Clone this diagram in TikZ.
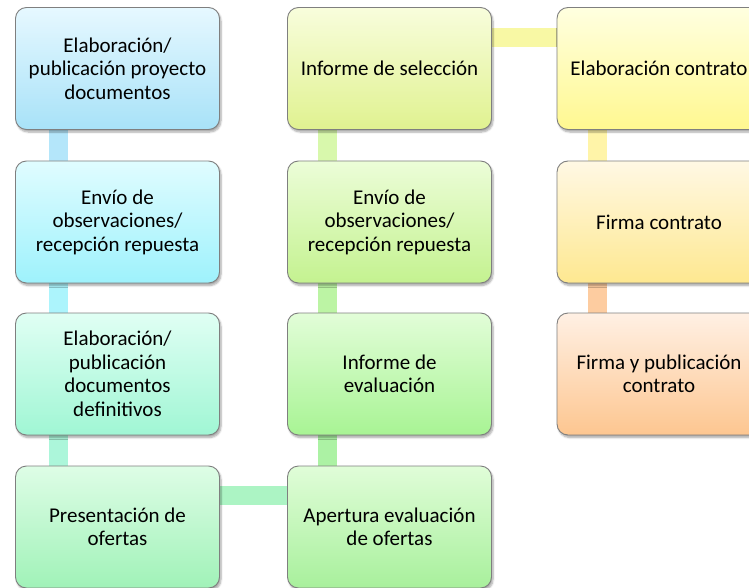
\documentclass[tikz,border=0pt]{standalone}
\usepackage{fontspec}
\setmainfont{Carlito}
\usetikzlibrary{shadows.blur,backgrounds}
\definecolor{t1}{HTML}{E6F8FF}\definecolor{b1}{HTML}{A8E2F8}
\definecolor{t2}{HTML}{E0FCFF}\definecolor{b2}{HTML}{9EF2FC}
\definecolor{t3}{HTML}{E0FFF4}\definecolor{b3}{HTML}{A0F6D4}
\definecolor{t4}{HTML}{DEFDE6}\definecolor{b4}{HTML}{A0F2B8}
\definecolor{t5}{HTML}{E0FDD8}\definecolor{b5}{HTML}{A8F09C}
\definecolor{t6}{HTML}{E2FDD8}\definecolor{b6}{HTML}{A8F494}
\definecolor{t7}{HTML}{ECFDD8}\definecolor{b7}{HTML}{C4F290}
\definecolor{t8}{HTML}{F8FDDC}\definecolor{b8}{HTML}{E0F290}
\definecolor{t9}{HTML}{FFFFE0}\definecolor{b9}{HTML}{FFF890}
\definecolor{t10}{HTML}{FFF8E4}\definecolor{b10}{HTML}{FEE890}
\definecolor{t11}{HTML}{FFF0E4}\definecolor{b11}{HTML}{FDC690}
\definecolor{k1}{HTML}{B4E6FA}\definecolor{k2}{HTML}{ACF4FC}
\definecolor{k3}{HTML}{ACF6DA}\definecolor{k4}{HTML}{ACF4C4}
\definecolor{k5}{HTML}{ACF2A4}\definecolor{k6}{HTML}{BCF4A4}
\definecolor{k7}{HTML}{D8F8AC}\definecolor{k8}{HTML}{F8F8A4}
\definecolor{k9}{HTML}{FFF4A8}\definecolor{k10}{HTML}{FDCCA0}
\definecolor{edge}{HTML}{7F7F7F}
\tikzset{
  box/.style={draw=edge, line width=0.9pt, rounded corners=11pt,
    minimum width=204pt, minimum height=122pt, align=center,
    font=\fontsize{21}{23.5}\selectfont, text=black,
    blur shadow={shadow xshift=1.5pt, shadow yshift=-2.5pt, shadow blur steps=6, shadow opacity=35}},
  grad/.style={top color=t#1, bottom color=b#1},
  bar/.style={line width=19pt}
}
\begin{document}
\begin{tikzpicture}[x=1pt,y=1pt]
\useasboundingbox (0,0) rectangle (749,-588);
\node[box,grad=1] (a1) at (117.5,-68.5) {Elaboración/\\publicación proyecto\\documentos};
\node[box,grad=2] (a2) at (117.5,-222) {Envío de\\observaciones/\\recepción repuesta};
\node[box,grad=3] (a3) at (117.5,-374) {Elaboración/\\publicación\\documentos\\definitivos};
\node[box,grad=4] (a4) at (117.5,-527) {Presentación de\\ofertas};
\node[box,grad=5] (b4) at (389.5,-527) {Apertura evaluación\\de ofertas};
\node[box,grad=6] (b3) at (389.5,-374) {Informe de\\evaluación};
\node[box,grad=7] (b2) at (389.5,-222) {Envío de\\observaciones/\\recepción repuesta};
\node[box,grad=8] (b1) at (389.5,-68.5) {Informe de selección};
\node[box,grad=9] (c1) at (659,-68.5) {Elaboración contrato};
\node[box,grad=10] (c2) at (659,-222) {Firma contrato};
\node[box,grad=11] (c3) at (659,-374) {Firma y publicación\\contrato};
\begin{scope}[on background layer]
\draw[bar,k1] ([xshift=43pt]a1.south west) -- ([xshift=43pt]a2.north west);
\draw[bar,k2] ([xshift=43pt]a2.south west) -- ([xshift=43pt]a3.north west);
\draw[bar,k3] ([xshift=43pt]a3.south west) -- ([xshift=43pt]a4.north west);
\draw[bar,k4] ([yshift=-30pt]a4.north east) -- ([yshift=-30pt]b4.north west);
\draw[bar,k5] ([xshift=40pt]b4.north west) -- ([xshift=40pt]b3.south west);
\draw[bar,k6] ([xshift=40pt]b3.north west) -- ([xshift=40pt]b2.south west);
\draw[bar,k7] ([xshift=40pt]b2.north west) -- ([xshift=40pt]b1.south west);
\draw[bar,k8] ([yshift=-30pt]b1.north east) -- ([yshift=-30pt]c1.north west);
\draw[bar,k9] ([xshift=41pt]c1.south west) -- ([xshift=41pt]c2.north west);
\draw[bar,k10] ([xshift=41pt]c2.south west) -- ([xshift=41pt]c3.north west);
\end{scope}
\end{tikzpicture}
\end{document}
